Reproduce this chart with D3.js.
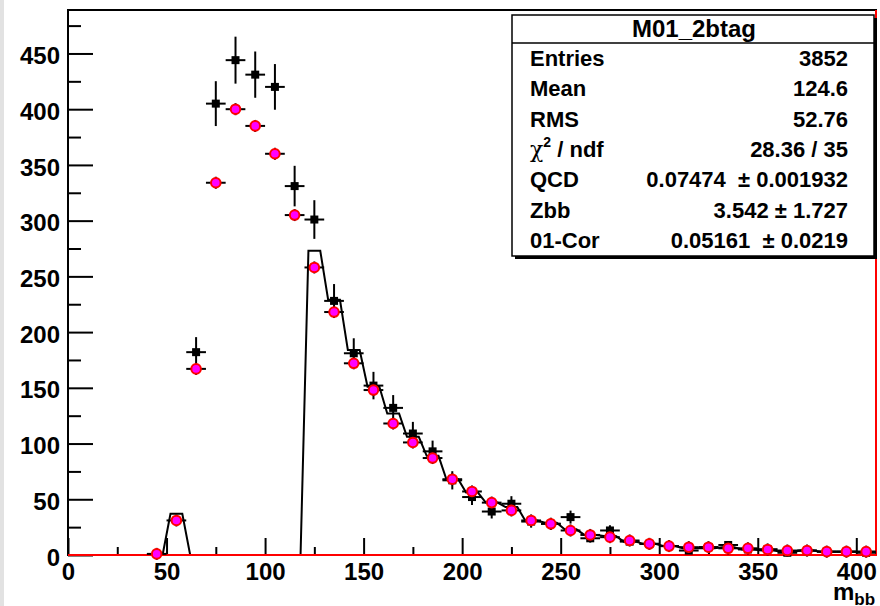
<!DOCTYPE html>
<html><head><meta charset="utf-8">
<script src="https://cdn.jsdelivr.net/npm/d3@7"></script>
<style>
html,body{margin:0;padding:0;background:#fff;}
svg{display:block;font-family:"Liberation Sans",Arial,Helvetica,sans-serif;}
</style></head>
<body>
<script>
// ---- data ----
const binWidth = 10;
const xDomain = [0, 410];
const yDomain = [0, 489];
// histogram (fit sum), bin low edges 0..400
const histLow = d3.range(0, 410, 10);
const histValues = [0,0,0,0,0,37,0,0,0,0,0,0,273,229,184,151,127,106,89,68,56,47,43,31,29,23,18,17,12,10,8,6,6,7,5,4,3,4,3,3,3];
// data points (black)
const dataX = [65,75,85,95,105,115,125,135,145,155,165,175,185,195,205,215,225,235,245,255,265,275,285,295,305,315,325,335,345,355,365,375,385,395,405];
const dataY = [182,405,444,431,420,331,301,228,181,152,132,109,93,67,52,39,46,30,28,34,15,22,12,10,8,4,7,9,5,5,2,4,3,3,2];
// MC points (magenta)
const mcX = [45,55,65,75,85,95,105,115,125,135,145,155,165,175,185,195,205,215,225,235,245,255,265,275,285,295,305,315,325,335,345,355,365,375,385,395,405];
const mcY = [1,31,167,334,400,385,360,305,258,218,172,148,118,101,87,68,57,47,40,31,28,22,18,16,13,10,8,7,7,6,6,5,4,4,3,3,3];
const yMajorTicks = [0,50,100,150,200,250,300,350,400,450];
const yMinorTicks = [25,75,125,175,225,275,325,375,425,475];
const xMajorTicks = [0,50,100,150,200,250,300,350,400];
const xMinorTicks = [25,75,125,175,225,275,325,375];
const statsTitle = "M01_2btag";
const statsLabels = ["Entries","Mean","RMS","CHI","QCD","Zbb","01-Cor"];
const statsValues = ["3852","124.6","52.76","28.36 / 35","0.07474  \u00b1 0.001932","3.542 \u00b1 1.727","0.05161  \u00b1 0.0219"];

// ---- layout ----
const W = 880, H = 606;
const svg = d3.select("body").append("svg").attr("width", W).attr("height", H);
svg.append("rect").attr("width", W).attr("height", H).attr("fill", "#fff");
svg.append("rect").attr("x",0).attr("y",0).attr("width",4).attr("height",H).attr("fill","#e2e2e2");

const x = d3.scaleLinear().domain(xDomain).range([68, 876]);
const y = d3.scaleLinear().domain(yDomain).range([555, 10]);

// frame
svg.append("rect").attr("x", x(0)).attr("y", y(yDomain[1])).attr("width", x(xDomain[1]) - x(0)).attr("height", y(0) - y(yDomain[1]))
  .attr("fill", "none").attr("stroke", "#000").attr("stroke-width", 2);

const fontCSS = "bold 24px 'Liberation Sans', Arial, sans-serif";

// y axis
const yAxis = d3.axisLeft(y).tickValues(yMajorTicks).tickSize(-25).tickPadding(8).tickFormat(d3.format("d"));
const gy = svg.append("g").attr("transform", `translate(${x(0)},0)`).call(yAxis);
gy.select(".domain").remove();
gy.selectAll("line").attr("stroke", "#000").attr("stroke-width", 2);
gy.selectAll("text").style("font", fontCSS).attr("fill", "#000").attr("dy", "0.42em");
const gy2 = svg.append("g").attr("transform", `translate(${x(0)},0)`).call(d3.axisLeft(y).tickValues(yMinorTicks).tickSize(-13).tickFormat(""));
gy2.select(".domain").remove();
gy2.selectAll("line").attr("stroke", "#000").attr("stroke-width", 2);

// x axis
const xAxis = d3.axisBottom(x).tickValues(xMajorTicks).tickSize(-17).tickPadding(8).tickFormat(d3.format("d"));
const gx = svg.append("g").attr("transform", `translate(0,${y(0)})`).call(xAxis);
gx.select(".domain").remove();
gx.selectAll("line").attr("stroke", "#000").attr("stroke-width", 2);
gx.selectAll("text").style("font", fontCSS).attr("fill", "#000");
const gx2 = svg.append("g").attr("transform", `translate(0,${y(0)})`).call(d3.axisBottom(x).tickValues(xMinorTicks).tickSize(-8).tickFormat(""));
gx2.select(".domain").remove();
gx2.selectAll("line").attr("stroke", "#000").attr("stroke-width", 2);

// x title m_bb
const xt = svg.append("text").attr("x", 833).attr("y", 600).style("font", "bold 24px 'Liberation Sans', Arial, sans-serif");
xt.append("tspan").text("m");
xt.append("tspan").attr("dy", 5).style("font-size", "17px").text("bb");

// histogram step line (slanted transitions)
const s = 2;
const hpts = [];
histLow.forEach((lo, i) => {
  hpts.push([lo === 0 ? lo : lo + s, histValues[i]]);
  hpts.push([lo + binWidth === xDomain[1] ? lo + binWidth : lo + binWidth - s, histValues[i]]);
});
svg.append("path").datum(hpts)
  .attr("d", d3.line().x(d => x(d[0])).y(d => y(d[1])))
  .attr("fill", "none").attr("stroke", "#000").attr("stroke-width", 2);

// red baseline + right edge
svg.append("path").attr("d", `M${x(0)},${y(0)}H${x(xDomain[1])}V${y(yDomain[1])}`)
  .attr("fill", "none").attr("stroke", "#f00").attr("stroke-width", 2);

// data points
const data = dataX.map((v, i) => ({x: v, y: dataY[i], e: Math.sqrt(dataY[i])}));
const gd = svg.append("g");
gd.selectAll("line.h").data(data).join("line")
  .attr("x1", d => x(d.x - binWidth/2)).attr("x2", d => x(d.x + binWidth/2))
  .attr("y1", d => y(d.y)).attr("y2", d => y(d.y)).attr("stroke", "#000").attr("stroke-width", 2);
gd.selectAll("line.v").data(data).join("line")
  .attr("x1", d => x(d.x)).attr("x2", d => x(d.x))
  .attr("y1", d => y(d.y - d.e)).attr("y2", d => y(d.y + d.e)).attr("stroke", "#000").attr("stroke-width", 2);
gd.selectAll("rect").data(data).join("rect")
  .attr("x", d => x(d.x) - 4).attr("y", d => y(d.y) - 4).attr("width", 8).attr("height", 8).attr("fill", "#000");

// MC points
const mc = mcX.map((v, i) => ({x: v, y: mcY[i]}));
const gm = svg.append("g");
gm.selectAll("line.h").data(mc).join("line")
  .attr("x1", d => x(d.x - binWidth/2)).attr("x2", d => x(d.x + binWidth/2))
  .attr("y1", d => y(d.y)).attr("y2", d => y(d.y)).attr("stroke", "#000").attr("stroke-width", 2);
gm.selectAll("line.v").data(mc).join("line")
  .attr("x1", d => x(d.x)).attr("x2", d => x(d.x))
  .attr("y1", d => y(d.y) + 6).attr("y2", d => y(d.y) - 6).attr("stroke", "#000").attr("stroke-width", 2);
gm.selectAll("circle").data(mc).join("circle")
  .attr("cx", d => x(d.x)).attr("cy", d => y(d.y)).attr("r", 4.8)
  .attr("fill", "#ff00ff").attr("stroke", "#ff0000").attr("stroke-width", 2);

// stats box
const bx = 512, by = 15, bw = 362, bh = 241;
svg.append("rect").attr("x", bx + 3).attr("y", by + 3).attr("width", bw).attr("height", bh).attr("fill", "#000");
svg.append("rect").attr("x", bx).attr("y", by).attr("width", bw).attr("height", bh).attr("fill", "#fff").attr("stroke", "#000").attr("stroke-width", 1.5);
svg.append("line").attr("x1", bx).attr("x2", bx + bw).attr("y1", 43).attr("y2", 43).attr("stroke", "#000").attr("stroke-width", 1.5);
svg.append("text").attr("x", bx + bw/2 + 1).attr("y", 37).attr("text-anchor", "middle")
  .style("font", "bold 24px 'Liberation Sans', Arial, sans-serif").text(statsTitle);
const rowY = d3.range(statsLabels.length).map(i => 66 + i * 30.3);
const sf = "bold 22px 'Liberation Sans', Arial, sans-serif";
statsLabels.forEach((lab, i) => {
  const t = svg.append("text").attr("x", 530).attr("y", rowY[i]).style("font", sf);
  if (lab === "CHI") {
    t.append("tspan").style("font-weight", "normal").style("font-family", "'DejaVu Serif', serif").text("\u03c7");
    t.append("tspan").attr("dy", -10).style("font-size", "14px").text("2");
    t.append("tspan").attr("dy", 10).text(" / ndf");
  } else t.text(lab);
  svg.append("text").attr("x", 848).attr("y", rowY[i]).attr("text-anchor", "end")
    .style("font", sf).style("white-space", "pre").attr("xml:space", "preserve").text(statsValues[i]);
});
</script>
</body></html>
